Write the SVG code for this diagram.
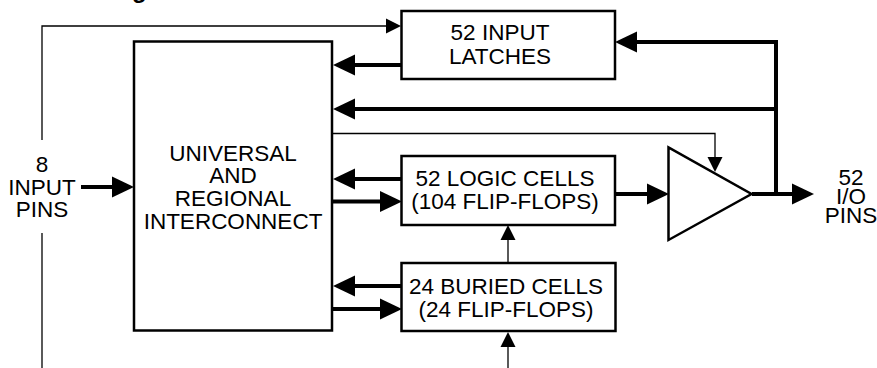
<svg xmlns="http://www.w3.org/2000/svg" width="877" height="368" viewBox="0 0 877 368">
<style>
.box{fill:#fff;stroke:#000;stroke-width:2.5}
.thick{fill:none;stroke:#000;stroke-width:4}
.thin{fill:none;stroke:#000;stroke-width:1.3}
text{font-family:"Liberation Sans",Arial,sans-serif;font-size:22.5px;fill:#000;text-anchor:middle}
</style>
<defs>
<marker id="ah" viewBox="0 0 22 22" refX="0" refY="11" markerWidth="22" markerHeight="22" markerUnits="userSpaceOnUse" orient="auto">
<path d="M0,0.5 L22,11 L0,21.5 Z" fill="#000"/>
</marker>
<marker id="ahs" viewBox="0 0 15 16" refX="0" refY="8" markerWidth="15" markerHeight="16" markerUnits="userSpaceOnUse" orient="auto">
<path d="M0,0.5 L15,8 L0,15.5 Z" fill="#000"/>
</marker>
</defs>
<rect width="877" height="368" fill="#fff"/>
<text x="132" y="-2" style="font-weight:bold;font-size:24px;text-anchor:start">g</text>

<g id="connectors">
<path class="thin" d="M42,140 V26 H386" marker-end="url(#ahs)"/>
<path class="thin" d="M42,233 V368"/>
<path class="thick" d="M401,65 H355" marker-end="url(#ah)"/>
<path class="thick" d="M776,194 V42 H637" marker-end="url(#ah)"/>
<path class="thick" d="M776,109 H355" marker-end="url(#ah)"/>
<path class="thin" d="M333,133.5 H715 V157" marker-end="url(#ahs)"/>
<path class="thick" d="M401,179 H355" marker-end="url(#ah)"/>
<path class="thick" d="M333,201.5 H380" marker-end="url(#ah)"/>
<path class="thick" d="M615,194 H647" marker-end="url(#ah)"/>
<path class="thick" d="M752,194 H792" marker-end="url(#ah)"/>
<path class="thin" d="M508,263 V240" marker-end="url(#ahs)"/>
<path class="thin" d="M508,368 V347" marker-end="url(#ahs)"/>
<path class="thick" d="M401,286 H355" marker-end="url(#ah)"/>
<path class="thick" d="M333,309 H380" marker-end="url(#ah)"/>
<path class="thick" d="M81,187 H112" marker-end="url(#ah)"/>
</g>

<g id="interconnect">
<rect class="box" x="134" y="41.5" width="198" height="289"/>
<text x="233" y="160.5">UNIVERSAL</text>
<text x="233" y="183.3">AND</text>
<text x="233" y="206">REGIONAL</text>
<text x="233" y="229">INTERCONNECT</text>
</g>

<g id="input-latches">
<rect class="box" x="401.5" y="11" width="213.5" height="68"/>
<text x="500" y="40">52 INPUT</text>
<text x="500" y="64">LATCHES</text>
</g>

<g id="logic-cells">
<rect class="box" x="401.5" y="156" width="213.5" height="69"/>
<text x="505" y="186">52 LOGIC CELLS</text>
<text x="505" y="209">(104 FLIP-FLOPS)</text>
</g>

<g id="buried-cells">
<rect class="box" x="401.5" y="263" width="214" height="68"/>
<text x="506" y="294">24 BURIED CELLS</text>
<text x="506" y="316.5">(24 FLIP-FLOPS)</text>
</g>

<g id="buffer">
<path class="box" d="M668.5,147.5 L668.5,240 L751.5,194 Z"/>
</g>

<g id="input-pins">
<text x="42" y="172">8</text>
<text x="42" y="194.5">INPUT</text>
<text x="42" y="217">PINS</text>
</g>

<g id="io-pins">
<text x="851" y="185">52</text>
<text x="851" y="203.5">I/O</text>
<text x="851" y="222.5">PINS</text>
</g>
</svg>
